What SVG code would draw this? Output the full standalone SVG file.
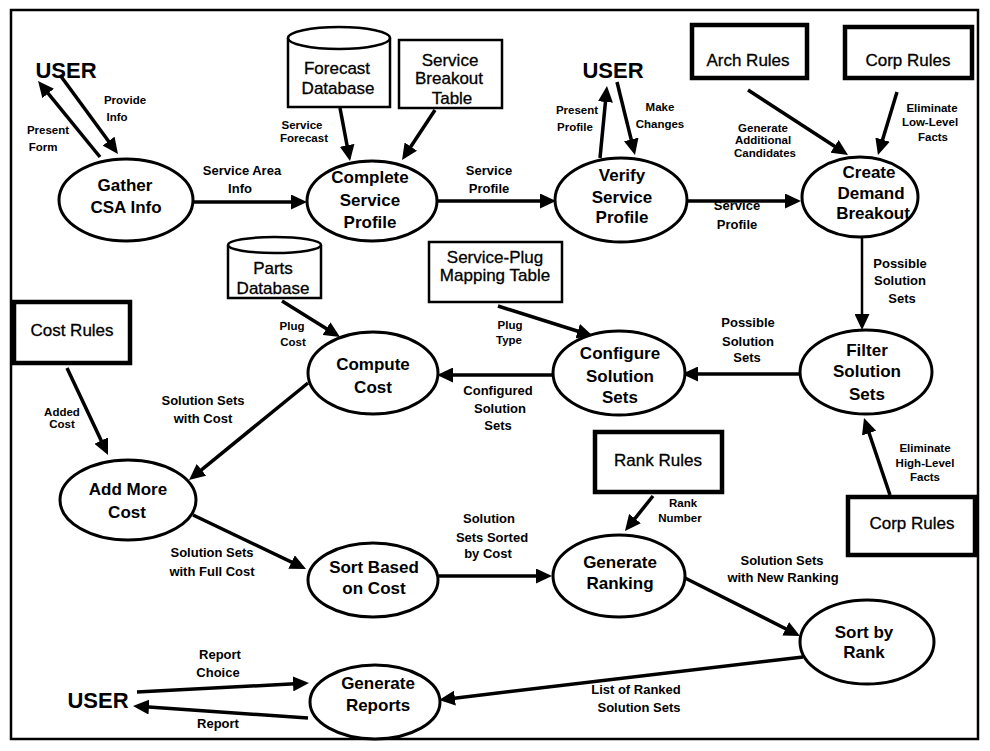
<svg xmlns="http://www.w3.org/2000/svg" width="990" height="751" viewBox="0 0 990 751">
  <style>
    .proc { fill: #fff; stroke: #000; stroke-width: 3; }
    .store { fill: #fff; stroke: #000; stroke-width: 2.5; }
    .rules { fill: #fff; stroke: #000; stroke-width: 4.5; }
    .nl { font-family: "Liberation Sans", Arial, sans-serif; font-size: 17px; font-weight: bold; text-anchor: middle; fill: #000; }
    .bl { font-family: "Liberation Sans", Arial, sans-serif; font-size: 17px; text-anchor: middle; fill: #000; stroke: #000; stroke-width: 0.3; }
    .user { font-family: "Liberation Sans", Arial, sans-serif; font-size: 22px; font-weight: bold; text-anchor: middle; fill: #000; }
    .flow { fill: none; stroke: #000; stroke-width: 3.5; marker-end: url(#head); }
    .thin { stroke-width: 2.5; }
    .ml { font-family: "Liberation Sans", Arial, sans-serif; font-size: 13px; font-weight: bold; text-anchor: middle; fill: #000; }
    .sl { font-family: "Liberation Sans", Arial, sans-serif; font-size: 11.5px; font-weight: bold; text-anchor: middle; fill: #000; }
  </style>
  <defs>
    <marker id="head" markerUnits="userSpaceOnUse" markerWidth="16" markerHeight="15" refX="11" refY="7.5" orient="auto">
      <path d="M0,0 L16,7.5 L0,15 z" fill="#000"/>
    </marker>
  </defs>

  <rect x="0" y="0" width="990" height="751" fill="#fff"/>
  <!-- page frame -->
  <rect x="11" y="10" width="967" height="729" fill="none" stroke="#000" stroke-width="2.5"/>

  <!-- flows -->
  <g id="connectors">
    <line class="flow" x1="100" y1="157" x2="41.2" y2="84.9"/>
    <line class="flow" x1="60" y1="75" x2="115" y2="150"/>
    <line class="flow" x1="193" y1="202" x2="302" y2="202"/>
    <line class="flow" x1="340" y1="108" x2="349.1" y2="156.1"/>
    <line class="flow" x1="435" y1="110" x2="404.8" y2="155.8"/>
    <line class="flow" x1="432" y1="201" x2="551" y2="201"/>
    <line class="flow" x1="600" y1="158" x2="606.5" y2="91"/>
    <line class="flow" x1="617" y1="82" x2="633.8" y2="150.1"/>
    <line class="flow" x1="687" y1="201" x2="796" y2="201"/>
    <line class="flow" x1="748" y1="90" x2="843.8" y2="152.3"/>
    <line class="flow" x1="897" y1="92" x2="879.4" y2="150.2"/>
    <line class="flow thin" x1="862" y1="238" x2="862" y2="325"/>
    <line class="flow" x1="805" y1="374" x2="687" y2="374"/>
    <line class="flow" x1="498" y1="306" x2="588.2" y2="334.5"/>
    <line class="flow" x1="560" y1="375" x2="442" y2="375"/>
    <line class="flow" x1="282" y1="301" x2="335.8" y2="334.4"/>
    <line class="flow" x1="308" y1="383" x2="192.9" y2="476.8"/>
    <line class="flow" x1="67" y1="368" x2="105.9" y2="450.5"/>
    <line class="flow" x1="193" y1="515" x2="301.5" y2="566.8"/>
    <line class="flow" x1="439" y1="576" x2="547" y2="576"/>
    <line class="flow" x1="653" y1="496" x2="628.1" y2="527.1"/>
    <line class="flow" x1="685" y1="578" x2="795.5" y2="633.7"/>
    <line class="flow" x1="803" y1="657" x2="444" y2="699.4"/>
    <line class="flow" x1="890" y1="495" x2="865.6" y2="422.7"/>
    <line class="flow" x1="137" y1="692" x2="304" y2="683.3"/>
    <line class="flow" x1="308" y1="718" x2="138" y2="706.3"/>

    <g id="flow-labels">
      <text class="sl" x="125" y="104">Provide</text>
      <text class="sl" x="117" y="121">Info</text>
      <text class="sl" x="48" y="134">Present</text>
      <text class="sl" x="43" y="151">Form</text>
      <text class="sl" x="302" y="129">Service</text>
      <text class="sl" x="304" y="142">Forecast</text>
      <text class="sl" x="577" y="114">Present</text>
      <text class="sl" x="575" y="131">Profile</text>
      <text class="sl" x="660" y="111">Make</text>
      <text class="sl" x="660" y="128">Changes</text>
      <text class="sl" x="763" y="132">Generate</text>
      <text class="sl" x="763" y="144">Additional</text>
      <text class="sl" x="765" y="157">Candidates</text>
      <text class="sl" x="932" y="112">Eliminate</text>
      <text class="sl" x="930" y="126">Low-Level</text>
      <text class="sl" x="933" y="141">Facts</text>
      <text class="sl" x="510" y="329">Plug</text>
      <text class="sl" x="509" y="344">Type</text>
      <text class="sl" x="292" y="330">Plug</text>
      <text class="sl" x="293" y="346">Cost</text>
      <text class="sl" x="62" y="416">Added</text>
      <text class="sl" x="62" y="428">Cost</text>
      <text class="sl" x="683" y="507">Rank</text>
      <text class="sl" x="680" y="522">Number</text>
      <text class="sl" x="925" y="452">Eliminate</text>
      <text class="sl" x="925" y="467">High-Level</text>
      <text class="sl" x="925" y="481">Facts</text>

      <text class="ml" x="242" y="175">Service Area</text>
      <text class="ml" x="240" y="193">Info</text>
      <text class="ml" x="489" y="175">Service</text>
      <text class="ml" x="489" y="193">Profile</text>
      <text class="ml" x="737" y="210">Service</text>
      <text class="ml" x="737" y="229">Profile</text>
      <text class="ml" x="900" y="268">Possible</text>
      <text class="ml" x="900" y="285">Solution</text>
      <text class="ml" x="902" y="303">Sets</text>
      <text class="ml" x="748" y="327">Possible</text>
      <text class="ml" x="748" y="346">Solution</text>
      <text class="ml" x="747" y="362">Sets</text>
      <text class="ml" x="498" y="395">Configured</text>
      <text class="ml" x="500" y="413">Solution</text>
      <text class="ml" x="498" y="430">Sets</text>
      <text class="ml" x="203" y="405">Solution Sets</text>
      <text class="ml" x="203" y="423">with Cost</text>
      <text class="ml" x="212" y="557">Solution Sets</text>
      <text class="ml" x="212" y="576">with Full Cost</text>
      <text class="ml" x="489" y="523">Solution</text>
      <text class="ml" x="492" y="542">Sets Sorted</text>
      <text class="ml" x="488" y="558">by Cost</text>
      <text class="ml" x="782" y="565">Solution Sets</text>
      <text class="ml" x="783" y="582">with New Ranking</text>
      <text class="ml" x="636" y="694">List of Ranked</text>
      <text class="ml" x="639" y="712">Solution Sets</text>
      <text class="ml" x="220" y="659">Report</text>
      <text class="ml" x="218" y="677">Choice</text>
      <text class="ml" x="218" y="728">Report</text>
    </g>
  </g>

  <!-- external user -->
  <g id="user-top-left"><text class="user" x="66" y="78">USER</text></g>
  <g id="user-top"><text class="user" x="613" y="78">USER</text></g>
  <g id="user-bottom"><text class="user" x="98" y="708">USER</text></g>

  <!-- data stores and rule bases -->
  <g id="forecast-database">
    <path class="store" d="M288,38 V107 H390 V38"/>
    <ellipse class="store" cx="339" cy="38" rx="51" ry="11"/>
    <text class="bl" x="337" y="74">Forecast</text>
    <text class="bl" x="338" y="94">Database</text>
  </g>
  <g id="service-breakout-table">
    <rect class="store" x="399" y="40" width="103" height="68"/>
    <text class="bl" x="450" y="66">Service</text>
    <text class="bl" x="449" y="84">Breakout</text>
    <text class="bl" x="452" y="104">Table</text>
  </g>
  <g id="arch-rules">
    <rect class="rules" x="692" y="25" width="115" height="53"/>
    <text class="bl" x="748" y="66">Arch Rules</text>
  </g>
  <g id="corp-rules-top">
    <rect class="rules" x="845" y="27" width="127" height="51"/>
    <text class="bl" x="908" y="66">Corp Rules</text>
  </g>
  <g id="parts-database">
    <path class="store" d="M228,245 V298 H321 V245"/>
    <ellipse class="store" cx="274.5" cy="245" rx="46.5" ry="8"/>
    <text class="bl" x="273" y="274">Parts</text>
    <text class="bl" x="273" y="294">Database</text>
  </g>
  <g id="service-plug-mapping-table">
    <rect class="store" x="429" y="242" width="133" height="60"/>
    <text class="bl" x="495" y="263">Service-Plug</text>
    <text class="bl" x="495" y="281">Mapping Table</text>
  </g>
  <g id="cost-rules">
    <rect class="rules" x="14" y="302" width="116" height="61"/>
    <text class="bl" x="72" y="336">Cost Rules</text>
  </g>
  <g id="rank-rules">
    <rect class="rules" x="595" y="432" width="127" height="60"/>
    <text class="bl" x="658" y="466">Rank Rules</text>
  </g>
  <g id="corp-rules-bottom">
    <rect class="rules" x="848" y="497" width="127" height="58"/>
    <text class="bl" x="912" y="529">Corp Rules</text>
  </g>

  <!-- processes -->
  <g id="gather-csa-info">
    <ellipse class="proc" cx="126" cy="200" rx="67" ry="41"/>
    <text class="nl" x="125" y="191">Gather</text>
    <text class="nl" x="126" y="213">CSA Info</text>
  </g>
  <g id="complete-service-profile">
    <ellipse class="proc" cx="372" cy="201" rx="65" ry="40"/>
    <text class="nl" x="370" y="183">Complete</text>
    <text class="nl" x="370" y="206">Service</text>
    <text class="nl" x="370" y="228">Profile</text>
  </g>
  <g id="verify-service-profile">
    <ellipse class="proc" cx="621" cy="200" rx="66" ry="42"/>
    <text class="nl" x="622" y="181">Verify</text>
    <text class="nl" x="622" y="203">Service</text>
    <text class="nl" x="622" y="223">Profile</text>
  </g>
  <g id="create-demand-breakout">
    <ellipse class="proc" cx="860" cy="197" rx="58" ry="40"/>
    <text class="nl" x="869" y="178">Create</text>
    <text class="nl" x="871" y="199">Demand</text>
    <text class="nl" x="873" y="219">Breakout</text>
  </g>
  <g id="filter-solution-sets">
    <ellipse class="proc" cx="866" cy="372" rx="66" ry="42"/>
    <text class="nl" x="867" y="356">Filter</text>
    <text class="nl" x="867" y="377">Solution</text>
    <text class="nl" x="867" y="400">Sets</text>
  </g>
  <g id="configure-solution-sets">
    <ellipse class="proc" cx="619" cy="373" rx="66" ry="42"/>
    <text class="nl" x="620" y="359">Configure</text>
    <text class="nl" x="620" y="382">Solution</text>
    <text class="nl" x="620" y="403">Sets</text>
  </g>
  <g id="compute-cost">
    <ellipse class="proc" cx="373" cy="373" rx="65" ry="41"/>
    <text class="nl" x="373" y="370">Compute</text>
    <text class="nl" x="373" y="393">Cost</text>
  </g>
  <g id="add-more-cost">
    <ellipse class="proc" cx="128" cy="500" rx="68" ry="40"/>
    <text class="nl" x="128" y="495">Add More</text>
    <text class="nl" x="127" y="518">Cost</text>
  </g>
  <g id="sort-based-on-cost">
    <ellipse class="proc" cx="373" cy="580" rx="65" ry="37"/>
    <text class="nl" x="374" y="573">Sort Based</text>
    <text class="nl" x="374" y="594">on Cost</text>
  </g>
  <g id="generate-ranking">
    <ellipse class="proc" cx="619" cy="576" rx="66" ry="41"/>
    <text class="nl" x="620" y="568">Generate</text>
    <text class="nl" x="620" y="589">Ranking</text>
  </g>
  <g id="sort-by-rank">
    <ellipse class="proc" cx="867" cy="642" rx="67" ry="42"/>
    <text class="nl" x="864" y="638">Sort by</text>
    <text class="nl" x="864" y="658">Rank</text>
  </g>
  <g id="generate-reports">
    <ellipse class="proc" cx="375" cy="702" rx="65" ry="37"/>
    <text class="nl" x="378" y="689">Generate</text>
    <text class="nl" x="378" y="711">Reports</text>
  </g>
</svg>
